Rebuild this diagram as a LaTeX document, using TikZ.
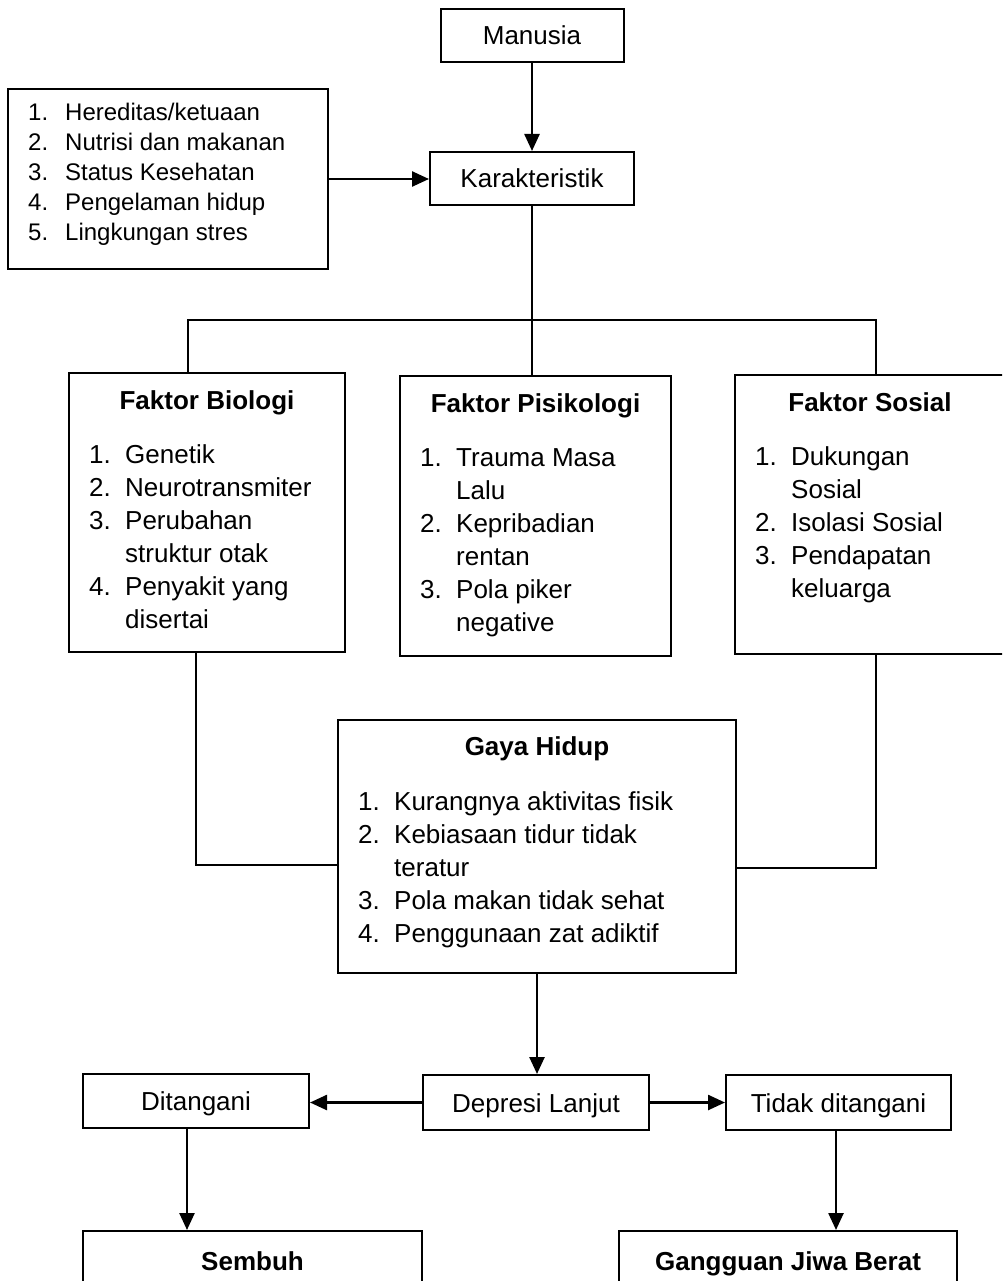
\documentclass[tikz,border=0pt]{standalone}
\usepackage{fontspec}
\setmainfont{Liberation Sans}
\usetikzlibrary{arrows.meta,positioning}

\begin{document}
\begin{tikzpicture}[x=1pt,y=-1pt]
\tikzset{box/.style={draw, line width=2pt, inner sep=0pt}}
\tikzset{lbl/.style={box, font=\fontsize{26}{33}\selectfont, text height=19pt, text depth=0pt}}
\tikzset{ttl/.style={font=\fontsize{26}{33}\selectfont\bfseries, anchor=base, inner sep=0pt}}
\tikzset{lst/.style={font=\fontsize{26}{33}\selectfont, anchor=base west, inner sep=0pt}}
\tikzset{line/.style={line width=2.5pt}}
\tikzset{arr/.style={line, -{Triangle[length=17pt,width=15pt]}}}
\useasboundingbox (0,0) rectangle (1002,1281);
\clip (0,0) rectangle (1002,1281);

% top part
\node[lbl, minimum width=183pt, minimum height=53pt] (manusia) at (532,35.5) {Manusia};
\node[lbl, minimum width=204pt, minimum height=53pt] (karakter) at (532,178.5) {Karakteristik};
\node[box, minimum width=320pt, minimum height=180pt] (riwayat) at (168,179) {};
\node[lst, font=\fontsize{24}{30}\selectfont, below right=33pt and 21pt of riwayat.north west, anchor=base west] (riwayat-l)
{\begin{tabular}[t]{@{}p{37pt}@{}l@{}}
1. & Hereditas/ketuaan\\
2. & Nutrisi dan makanan\\
3. & Status Kesehatan\\
4. & Pengelaman hidup\\
5. & Lingkungan stres
\end{tabular}};

% faktor
\node[box, minimum width=276pt, minimum height=279pt] (biologi) at (207,512.5) {};
\node[below=37pt of biologi.north, ttl] (biologi-t) {Faktor Biologi};
\node[below right=91pt and 21pt of biologi.north west, lst] (biologi-l)
{\begin{tabular}[t]{@{}p{36pt}@{}l@{}}
1. & Genetik\\
2. & Neurotransmiter\\
3. & Perubahan\\
   & struktur otak\\
4. & Penyakit yang\\
   & disertai
\end{tabular}};

\node[box, minimum width=271pt, minimum height=280pt] (psikologi) at (535.5,516) {};
\node[below=37pt of psikologi.north, ttl] (psikologi-t) {Faktor Pisikologi};
\node[below right=91pt and 21pt of psikologi.north west, lst] (psikologi-l)
{\begin{tabular}[t]{@{}p{36pt}@{}l@{}}
1. & Trauma Masa\\
   & Lalu\\
2. & Kepribadian\\
   & rentan\\
3. & Pola piker\\
   & negative
\end{tabular}};

\node[box, minimum width=270pt, minimum height=279pt] (sosial) at (870,514.5) {};
\node[below=37pt of sosial.north, ttl] (sosial-t) {Faktor Sosial};
\node[below right=91pt and 21pt of sosial.north west, lst] (sosial-l)
{\begin{tabular}[t]{@{}p{36pt}@{}l@{}}
1. & Dukungan\\
   & Sosial\\
2. & Isolasi Sosial\\
3. & Pendapatan\\
   & keluarga
\end{tabular}};

\node[box, minimum width=398pt, minimum height=253pt] (gaya) at (537,846.5) {};
\node[below=36pt of gaya.north, ttl] (gaya-t) {Gaya Hidup};
\node[below right=91pt and 21pt of gaya.north west, lst] (gaya-l)
{\begin{tabular}[t]{@{}p{36pt}@{}l@{}}
1. & Kurangnya aktivitas fisik\\
2. & Kebiasaan tidur tidak\\
   & teratur\\
3. & Pola makan tidak sehat\\
4. & Penggunaan zat adiktif
\end{tabular}};

% bottom part
\node[lbl, minimum width=226pt, minimum height=55pt] (depresi) at (536,1102.5) {Depresi Lanjut};
\node[lbl, minimum width=226pt, minimum height=54pt] (ditangani) at (196,1101) {Ditangani};
\node[lbl, minimum width=225pt, minimum height=55pt] (tidak) at (838.5,1102.5) {Tidak ditangani};
\node[lbl, font=\fontsize{26}{33}\selectfont\bfseries, minimum width=339pt, minimum height=60pt] (sembuh) at (252.5,1261) {Sembuh};
\node[lbl, font=\fontsize{26}{33}\selectfont\bfseries, minimum width=338pt, minimum height=60pt] (berat) at (788,1261) {Gangguan Jiwa Berat};

\coordinate (jl) at (188,320);
\coordinate (jr) at (876,320);
\coordinate (bl) at (196,865);
\coordinate (sr) at (876,868);
\coordinate (dl) at (187,0);
\coordinate (tl) at (836,0);

% connectors
\draw[arr] (manusia) -- (karakter);
\draw[arr] (riwayat.east) -- (riwayat.east -| karakter.west);
\draw[line] (karakter.south) -- (karakter.south |- psikologi.north);
\draw[line] (jl |- biologi.north) -- (jl) -- (jr) -- (jr |- sosial.north);
\draw[line] (bl |- biologi.south) -- (bl) -- (bl -| gaya.west);
\draw[line] (sr |- sosial.south) -- (sr) -- (sr -| gaya.east);
\draw[arr] (gaya.south) -- (gaya.south |- depresi.north);
\draw[arr] (depresi.west) -- (depresi.west -| ditangani.east);
\draw[arr] (depresi.east) -- (depresi.east -| tidak.west);
\draw[arr] (dl |- ditangani.south) -- (dl |- sembuh.north);
\draw[arr] (tl |- tidak.south) -- (tl |- berat.north);
\end{tikzpicture}
\end{document}
